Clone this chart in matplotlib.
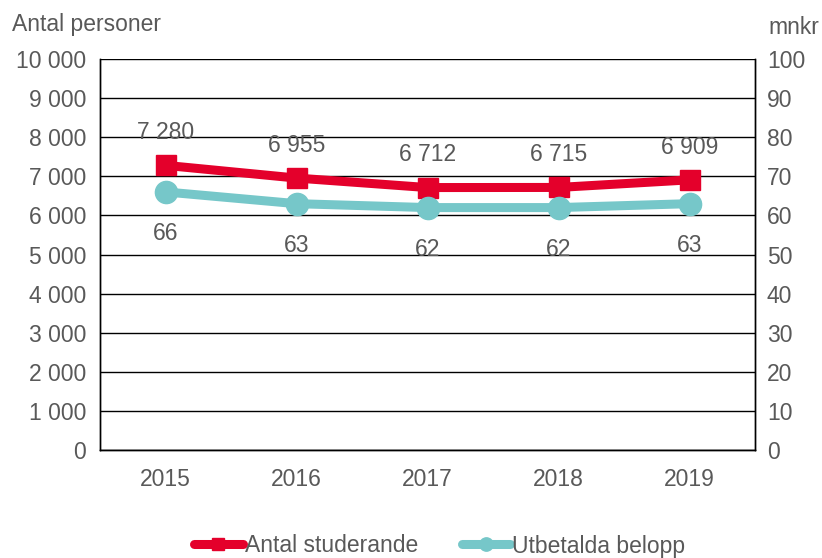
import matplotlib
matplotlib.use("Agg")
import matplotlib.pyplot as plt
from matplotlib.ticker import FuncFormatter

years = ["2015", "2016", "2017", "2018", "2019"]
studerande = [7280, 6955, 6712, 6715, 6909]
belopp = [66, 63, 62, 62, 63]
stud_labels = ["7 280", "6 955", "6 712", "6 715", "6 909"]
belopp_labels = ["66", "63", "62", "62", "63"]

RED = "#E4002B"
TEAL = "#76C7C9"
GREY = "#595959"
FS = 16.5

plt.rcParams["font.family"] = ["Liberation Sans", "DejaVu Sans"]
fig = plt.figure(figsize=(8.22, 5.58), dpi=100)
ax = fig.add_axes([100/822, 1-450/558, (755-100)/822, (450-59)/558])
ax2 = ax.twinx()

x = list(range(len(years)))
ax.set_ylim(0, 10000)
ax.set_yticks(range(0, 10001, 1000))
ax.yaxis.set_major_formatter(FuncFormatter(lambda v, p: f"{int(v):,}".replace(",", " ")))
ax.set_xlim(-0.5, len(years)-0.5)
ax.set_xticks(x)
ax.set_xticklabels(years)
ax.grid(axis="y", color="black", linewidth=1)
ax.set_axisbelow(True)
ax2.set_ylim(0, 100)
ax2.set_yticks(range(0, 101, 10))

for a in (ax, ax2):
    a.tick_params(length=0, labelsize=FS, colors=GREY)
    a.spines["top"].set_visible(False)
    for s in ["left", "right", "bottom"]:
        a.spines[s].set_color("black")
        a.spines[s].set_linewidth(1)
ax.tick_params(axis="y", pad=10)
ax2.tick_params(axis="y", pad=8.5)
ax.tick_params(axis="x", pad=13)

l1, = ax.plot(x, studerande, color=RED, lw=6.5, marker="s", ms=15, label="Antal studerande",
              zorder=5, solid_capstyle="round")
l2, = ax2.plot(x, belopp, color=TEAL, lw=6.5, marker="o", ms=16, label="Utbetalda belopp",
               zorder=5, solid_capstyle="round")

for xi, v, t in zip(x, studerande, stud_labels):
    ax2.annotate(t, (xi, v / 100), xytext=(0, 23.5), textcoords="offset points", ha="center", va="center",
                 fontsize=FS, color=GREY, zorder=10)
for xi, v, t in zip(x, belopp, belopp_labels):
    ax2.annotate(t, (xi, v), xytext=(0, -30), textcoords="offset points", ha="center", va="center",
                 fontsize=FS, color=GREY, zorder=10)

fig.text(12/822, 1-25/558, "Antal personer", fontsize=FS, color=GREY, ha="left", va="center")
fig.text(794/822, 1-28/558, "mnkr", fontsize=FS, color=GREY, ha="center", va="center")

leg = fig.legend(handles=[l1, l2], loc="center", bbox_to_anchor=(0.535, 1-546/558), ncol=2,
                 frameon=False, fontsize=FS, handlelength=2.1, handletextpad=0.1,
                 columnspacing=1.9, markerscale=0.6, borderpad=0)
for t in leg.get_texts():
    t.set_color(GREY)

fig.savefig("out.png", dpi=100)
